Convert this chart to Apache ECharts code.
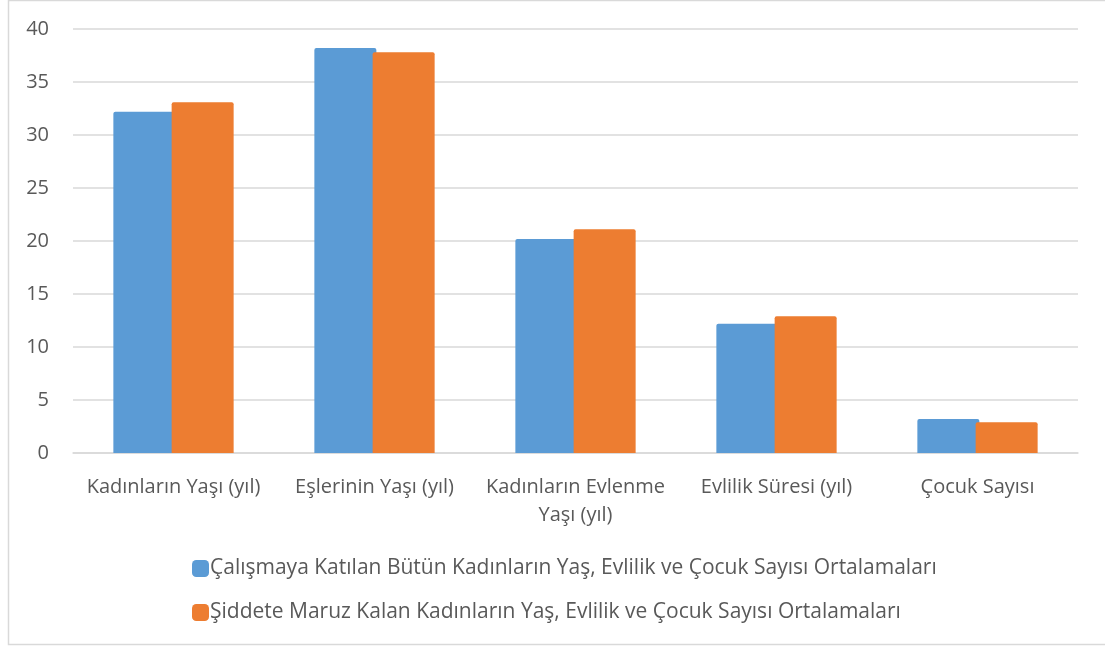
<!DOCTYPE html>
<html>
<head>
<meta charset="utf-8">
<script src="https://cdn.jsdelivr.net/npm/echarts@6/dist/echarts.min.js"></script>
<style>
  html, body { margin: 0; padding: 0; background: #fff; }
  #chart { width: 1105px; height: 648px; }
</style>
</head>
<body>
<div id="chart"></div>
<script>
// kategoriler ve seriler
var categories = ["Kadınların Yaşı (yıl)", "Eşlerinin Yaşı (yıl)", "Kadınların Evlenme Yaşı (yıl)", "Evlilik Süresi (yıl)", "Çocuk Sayısı"];
var seriesNames = [
  "Çalışmaya Katılan Bütün Kadınların Yaş, Evlilik ve Çocuk Sayısı Ortalamaları",
  "Şiddete Maruz Kalan Kadınların Yaş, Evlilik ve Çocuk Sayısı Ortalamaları"
];
var tumKadinlar = [32.2, 38.2, 20.2, 12.2, 3.2];
var siddetMaruz = [33.1, 37.8, 21.1, 12.9, 2.9];

var font = "'Open Sans', sans-serif";
var textColor = "#595959";
var gridColor = "#d9d9d9";

// uzun etiketleri kelime sınırından böl
function wrap(text, maxChars) {
  var words = text.split(" "), lines = [], cur = "";
  words.forEach(function (w) {
    if (cur && (cur + " " + w).length > maxChars) { lines.push(cur); cur = w; }
    else { cur = cur ? cur + " " + w : w; }
  });
  lines.push(cur);
  return lines.join("\n");
}

var chart = echarts.init(document.getElementById("chart"));
chart.setOption({
  animation: false,
  color: ["#5b9bd5", "#ed7d31"],
  textStyle: { fontFamily: font },
  graphic: [{
    type: "rect",
    shape: { x: 8.5, y: 0.5, width: 1120, height: 644 },
    style: { fill: null, stroke: gridColor, lineWidth: 1.5 }
  }],
  grid: { left: 73, right: 27, top: 29, bottom: 195 },
  legend: {
    orient: "vertical",
    left: 187,
    top: 553,
    itemGap: 23,
    itemWidth: 17,
    itemHeight: 17,
    icon: "roundRect",
    textStyle: { color: textColor, fontSize: 21, fontFamily: font, padding: [0, 0, 0, -4] },
    data: seriesNames
  },
  xAxis: {
    type: "category",
    data: categories,
    axisLine: { lineStyle: { color: gridColor, width: 1.5 } },
    axisTick: { show: false },
    axisLabel: {
      color: textColor,
      fontSize: 20,
      fontFamily: font,
      margin: 20,
      lineHeight: 28,
      interval: 0,
      formatter: function (v) { return wrap(v, 21); }
    }
  },
  yAxis: {
    type: "value",
    min: 0,
    max: 40,
    interval: 5,
    axisLine: { show: false },
    axisTick: { show: false },
    splitLine: { lineStyle: { color: gridColor, width: 1.5 } },
    axisLabel: { color: textColor, fontSize: 20, fontFamily: font, margin: 24 }
  },
  series: [
    {
      name: seriesNames[0],
      type: "bar",
      data: tumKadinlar,
      barWidth: 62,
      barGap: "-6%",
      itemStyle: { borderRadius: [2, 2, 0, 0] }
    },
    {
      name: seriesNames[1],
      type: "bar",
      data: siddetMaruz,
      barWidth: 62,
      itemStyle: { borderRadius: [2, 2, 0, 0] }
    }
  ]
});
</script>
</body>
</html>
